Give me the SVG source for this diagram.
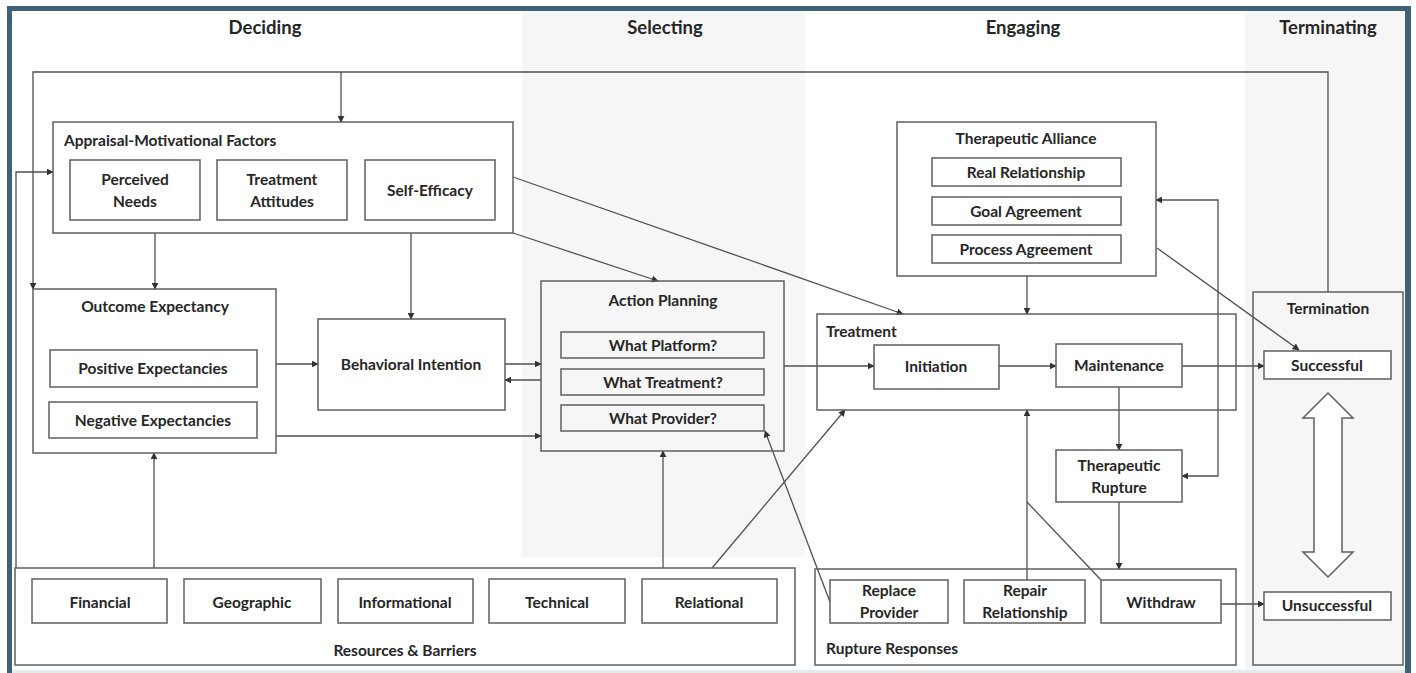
<svg xmlns="http://www.w3.org/2000/svg" width="1416" height="673" viewBox="0 0 1416 673">
  <style>
    .box { fill: none; stroke: #5f5f5f; stroke-width: 1.5; }
    .boxw { fill: #ffffff; stroke: #5f5f5f; stroke-width: 1.5; }
    .wire { fill: none; stroke: #505050; stroke-width: 1.3; }
    .t { font-family: Lato, "Liberation Sans", sans-serif; font-weight: 700; font-size: 15.5px; fill: #262626; text-anchor: middle; }
    .tl { text-anchor: start; }
    .hd { font-size: 18.5px; }
  </style>
  <defs>
    <marker id="arr" viewBox="0 0 10 10" refX="9" refY="5" markerWidth="7" markerHeight="7" markerUnits="userSpaceOnUse" orient="auto-start-reverse">
      <path d="M0,0 L10,5 L0,10 Z" fill="#333"/>
    </marker>
  </defs>

  <!-- page background, phase columns and frame -->
  <rect x="0" y="0" width="1416" height="673" fill="#ffffff"/>
  <rect x="522" y="11" width="283" height="546" fill="#f6f6f6"/>
  <rect x="1245" y="11" width="160" height="659" fill="#f6f6f6"/>
  <rect x="7" y="670" width="1404" height="3" fill="#e4eaed"/>
  <rect x="7" y="6" width="1404" height="5" fill="#3e6377"/>
  <rect x="7" y="6" width="5" height="667" fill="#3e6377"/>
  <rect x="1405" y="6" width="6" height="667" fill="#3e6377"/>

  <!-- phase headers -->
  <g id="headers">
    <text class="t hd" x="265" y="33.5">Deciding</text>
    <text class="t hd" x="665" y="33.5">Selecting</text>
    <text class="t hd" x="1023" y="33.5">Engaging</text>
    <text class="t hd" x="1328" y="33.5">Terminating</text>
  </g>

  <!-- connectors -->
  <g id="connectors">
    <path class="wire" d="M1328,292 V72 H33 V289" marker-end="url(#arr)"/>
    <path class="wire" d="M341,72 V122" marker-end="url(#arr)"/>
    <path class="wire" d="M16,568 V172 H53" marker-end="url(#arr)"/>
    <path class="wire" d="M155,233 V289" marker-end="url(#arr)"/>
    <path class="wire" d="M411,233 V319" marker-end="url(#arr)"/>
    <path class="wire" d="M513,233 L658,281" marker-end="url(#arr)"/>
    <path class="wire" d="M513,177 L903,314" marker-end="url(#arr)"/>
    <path class="wire" d="M276,364 H318" marker-end="url(#arr)"/>
    <path class="wire" d="M276,436 H541" marker-end="url(#arr)"/>
    <path class="wire" d="M505,364 H541" marker-end="url(#arr)"/>
    <path class="wire" d="M541,380 H505" marker-end="url(#arr)"/>
    <path class="wire" d="M784,366 H874" marker-end="url(#arr)"/>
    <path class="wire" d="M999,366 H1056" marker-end="url(#arr)"/>
    <path class="wire" d="M1182,366 H1264" marker-end="url(#arr)"/>
    <path class="wire" d="M1027,276 V314" marker-end="url(#arr)"/>
    <path class="wire" d="M1157,248 L1299,350" marker-end="url(#arr)"/>
    <path class="wire" d="M1182,476 H1218 V200 H1156" marker-start="url(#arr)" marker-end="url(#arr)"/>
    <path class="wire" d="M1119,387 V450" marker-end="url(#arr)"/>
    <path class="wire" d="M1119,502 V569" marker-end="url(#arr)"/>
    <path class="wire" d="M1027,580 V410" marker-end="url(#arr)"/>
    <path class="wire" d="M1101,580 L1027,502"/>
    <path class="wire" d="M1221,604 H1264" marker-end="url(#arr)"/>
    <path class="wire" d="M830,602 L765,431" marker-end="url(#arr)"/>
    <path class="wire" d="M712,568 L845,410" marker-end="url(#arr)"/>
    <path class="wire" d="M663,568 V451" marker-end="url(#arr)"/>
    <path class="wire" d="M154,568 V453" marker-end="url(#arr)"/>
  </g>

  <!-- Appraisal-Motivational Factors -->
  <g id="appraisal">
    <rect class="box" x="53" y="122" width="460" height="111"/>
    <text class="t tl" x="64" y="145.5">Appraisal-Motivational Factors</text>
    <rect class="box" x="70" y="160" width="130" height="60"/>
    <text class="t" x="135" y="185">Perceived</text>
    <text class="t" x="135" y="207">Needs</text>
    <rect class="box" x="217" y="160" width="130" height="60"/>
    <text class="t" x="282" y="185">Treatment</text>
    <text class="t" x="282" y="207">Attitudes</text>
    <rect class="box" x="365" y="160" width="130" height="60"/>
    <text class="t" x="430" y="195.5">Self-Efficacy</text>
  </g>

  <!-- Outcome Expectancy -->
  <g id="outcome">
    <rect class="box" x="33" y="289" width="243" height="164"/>
    <text class="t" x="155" y="312">Outcome Expectancy</text>
    <rect class="box" x="50" y="350" width="207" height="37"/>
    <text class="t" x="153" y="373.5">Positive Expectancies</text>
    <rect class="box" x="49" y="402" width="208" height="36"/>
    <text class="t" x="153" y="425.5">Negative Expectancies</text>
  </g>

  <!-- Behavioral Intention -->
  <g id="intention">
    <rect class="box" x="318" y="319" width="187" height="91"/>
    <text class="t" x="411" y="369.5">Behavioral Intention</text>
  </g>

  <!-- Action Planning -->
  <g id="planning">
    <rect class="box" x="541" y="281" width="243" height="170"/>
    <text class="t" x="663" y="305.5">Action Planning</text>
    <rect class="box" x="561" y="332" width="203" height="26"/>
    <text class="t" x="663" y="350.5">What Platform?</text>
    <rect class="box" x="561" y="369" width="203" height="26"/>
    <text class="t" x="663" y="387.5">What Treatment?</text>
    <rect class="box" x="561" y="405" width="203" height="26"/>
    <text class="t" x="663" y="423.5">What Provider?</text>
  </g>

  <!-- Therapeutic Alliance -->
  <g id="alliance">
    <rect class="box" x="897" y="122" width="259" height="154"/>
    <text class="t" x="1026" y="143.5">Therapeutic Alliance</text>
    <rect class="box" x="932" y="158" width="189" height="28"/>
    <text class="t" x="1026" y="177.5">Real Relationship</text>
    <rect class="box" x="932" y="197" width="189" height="28"/>
    <text class="t" x="1026" y="216.5">Goal Agreement</text>
    <rect class="box" x="932" y="235" width="189" height="28"/>
    <text class="t" x="1026" y="254.5">Process Agreement</text>
  </g>

  <!-- Treatment -->
  <g id="treatment">
    <rect class="box" x="817" y="314" width="419" height="96"/>
    <text class="t tl" x="826" y="336.5">Treatment</text>
    <rect class="box" x="874" y="345" width="125" height="44"/>
    <text class="t" x="936" y="371.5">Initiation</text>
    <rect class="box" x="1056" y="344" width="126" height="43"/>
    <text class="t" x="1119" y="371">Maintenance</text>
  </g>

  <!-- Therapeutic Rupture -->
  <g id="rupture">
    <rect class="boxw" x="1056" y="450" width="126" height="52"/>
    <text class="t" x="1119" y="470.5">Therapeutic</text>
    <text class="t" x="1119" y="492.5">Rupture</text>
  </g>

  <!-- Rupture Responses -->
  <g id="responses">
    <rect class="box" x="815" y="569" width="421" height="96"/>
    <text class="t tl" x="826" y="653.5">Rupture Responses</text>
    <rect class="boxw" x="830" y="580" width="118" height="43"/>
    <text class="t" x="889" y="596">Replace</text>
    <text class="t" x="889" y="617.5">Provider</text>
    <rect class="boxw" x="964" y="580" width="121" height="43"/>
    <text class="t" x="1025" y="596">Repair</text>
    <text class="t" x="1025" y="617.5">Relationship</text>
    <rect class="boxw" x="1101" y="580" width="120" height="43"/>
    <text class="t" x="1161" y="607.5">Withdraw</text>
  </g>

  <!-- Resources & Barriers -->
  <g id="resources">
    <rect class="box" x="15" y="568" width="780" height="97"/>
    <text class="t" x="405" y="655.5">Resources &amp; Barriers</text>
    <rect class="box" x="32" y="579" width="135" height="44"/>
    <text class="t" x="100" y="607.5">Financial</text>
    <rect class="box" x="184" y="579" width="137" height="44"/>
    <text class="t" x="252" y="607.5">Geographic</text>
    <rect class="box" x="338" y="579" width="135" height="44"/>
    <text class="t" x="405" y="607.5">Informational</text>
    <rect class="box" x="489" y="579" width="136" height="44"/>
    <text class="t" x="557" y="607.5">Technical</text>
    <rect class="box" x="642" y="579" width="135" height="44"/>
    <text class="t" x="709" y="607.5">Relational</text>
  </g>

  <!-- Termination -->
  <g id="termination">
    <rect class="box" x="1253" y="292" width="150" height="373"/>
    <text class="t" x="1328" y="313.5">Termination</text>
    <rect class="boxw" x="1264" y="351" width="127" height="28"/>
    <text class="t" x="1327" y="370.5">Successful</text>
    <rect class="boxw" x="1264" y="592" width="127" height="28"/>
    <text class="t" x="1327" y="610.5">Unsuccessful</text>
    <polygon points="1328,393 1353,418 1342,418 1342,552 1353,552 1328,577 1303,552 1314,552 1314,418 1303,418" fill="#ffffff" stroke="#5f5f5f" stroke-width="1.5"/>
  </g>
</svg>
